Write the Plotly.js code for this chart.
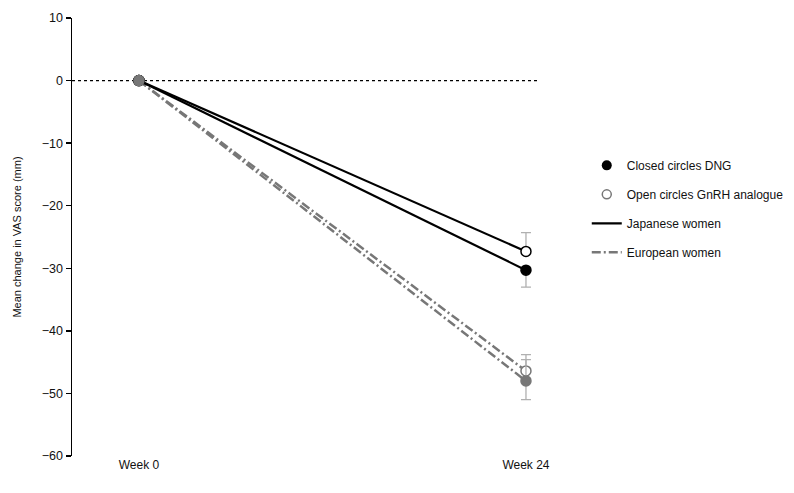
<!DOCTYPE html>
<html>
<head>
<meta charset="utf-8">
<script src="https://cdn.plot.ly/plotly-3.0.1.min.js"></script>
<style>
  html, body { margin: 0; padding: 0; background: #fff; }
  #chart { width: 794px; height: 493px; }
</style>
</head>
<body>
<div id="chart"></div>
<script>
// Weeks on the x axis
const weeks = [0, 24];
const weekLabels = ['Week 0', 'Week 24'];

// Mean change in VAS score (mm)
const jpDng = [0, -30.3];
const jpGnrh = [0, -27.3];
const euDng = [0, -48.0];
const euGnrh = [0, -46.4];

// Error bars at week 24 (one-sided, as drawn)
const jpDngErrUp = [0, 0];
const jpDngErrDown = [0, 2.7];
const jpGnrhErrUp = [0, 3.0];
const jpGnrhErrDown = [0, 0];
const euDngErrUp = [0, 3.4];
const euDngErrDown = [0, 3.0];
const euGnrhErrUp = [0, 2.6];
const euGnrhErrDown = [0, 0];

const yTicks = [10, 0, -10, -20, -30, -40, -50, -60];

const BLACK = '#000000';
const GREY = '#777777';
const ERR = '#b0b0b0';
const DASHDOT = '9px,3px,2px,3px';

function err(up, down) {
  return { type: 'data', symmetric: false, array: up, arrayminus: down,
           color: ERR, thickness: 1.3, width: 5 };
}

function series(y, up, down, lineColor, dash, fill, edge) {
  return {
    type: 'scatter', mode: 'lines+markers', x: weeks, y: y,
    showlegend: false, cliponaxis: false,
    line: { color: lineColor, width: dash ? 2.5 : 2.2, dash: dash || 'solid' },
    marker: { size: 10, color: fill, line: { color: edge, width: 1.5 } },
    error_y: err(up, down),
    hoverinfo: 'skip',
  };
}

const traces = [
  series(euGnrh, euGnrhErrUp, euGnrhErrDown, GREY, DASHDOT, '#ffffff', GREY),
  series(euDng, euDngErrUp, euDngErrDown, GREY, DASHDOT, GREY, GREY),
  series(jpGnrh, jpGnrhErrUp, jpGnrhErrDown, BLACK, null, '#ffffff', BLACK),
  series(jpDng, jpDngErrUp, jpDngErrDown, BLACK, null, BLACK, BLACK),
  // start point drawn last so the grey dot sits on top
  { type: 'scatter', mode: 'markers', x: [weeks[0]], y: [euDng[0]], showlegend: false,
    marker: { size: 10, color: GREY, line: { color: GREY, width: 1.5 } }, hoverinfo: 'skip', cliponaxis: false },

  // legend entries
  { type: 'scatter', mode: 'markers', x: [null], y: [null], name: 'Closed circles DNG',
    legendgroup: 'a', marker: { size: 10, color: BLACK } },
  { type: 'scatter', mode: 'markers', x: [null], y: [null], name: 'Open circles GnRH analogue',
    legendgroup: 'b', marker: { size: 9, color: '#ffffff', line: { color: GREY, width: 1.5 } } },
  { type: 'scatter', mode: 'lines', x: [null], y: [null], name: 'Japanese women',
    legendgroup: 'c', line: { color: BLACK, width: 2.2 } },
  { type: 'scatter', mode: 'lines', x: [null], y: [null], name: 'European women',
    legendgroup: 'd', line: { color: GREY, width: 2.5, dash: DASHDOT } },
];

const layout = {
  width: 794, height: 493,
  paper_bgcolor: '#ffffff', plot_bgcolor: '#ffffff',
  font: { family: 'Liberation Sans, Arial, sans-serif', color: '#111', size: 12 },
  margin: { l: 72, r: 254, t: 18, b: 37, autoexpand: false },
  showlegend: true,
  legend: {
    xref: 'container', yref: 'container',
    x: 0.739, xanchor: 'left', y: 0.694, yanchor: 'top',
    font: { size: 12, color: '#111' }, tracegroupgap: 10,
    bgcolor: 'rgba(0,0,0,0)',
  },
  xaxis: {
    range: [-4.15, 24.87], tickvals: weeks, ticktext: weekLabels,
    showgrid: false, zeroline: false, showline: false, ticks: '',
    tickfont: { size: 12 }, fixedrange: true,
  },
  yaxis: {
    range: [-60, 10], tickvals: yTicks,
    showgrid: false, zeroline: false, showline: true, linecolor: BLACK, linewidth: 1.5,
    ticks: 'outside', ticklen: 5, tickwidth: 1.5, tickcolor: BLACK,
    tickfont: { size: 12.5 },
    title: { text: 'Mean change in VAS score (mm)', font: { size: 11 }, standoff: 18 },
  },
  shapes: [{
    type: 'line', xref: 'paper', yref: 'y', x0: 0, x1: 1, y0: 0, y1: 0,
    line: { color: BLACK, width: 1.2, dash: 'dot' }, layer: 'below',
  }],
};

Plotly.newPlot('chart', traces, layout, { displayModeBar: false, staticPlot: true });
</script>
</body>
</html>
